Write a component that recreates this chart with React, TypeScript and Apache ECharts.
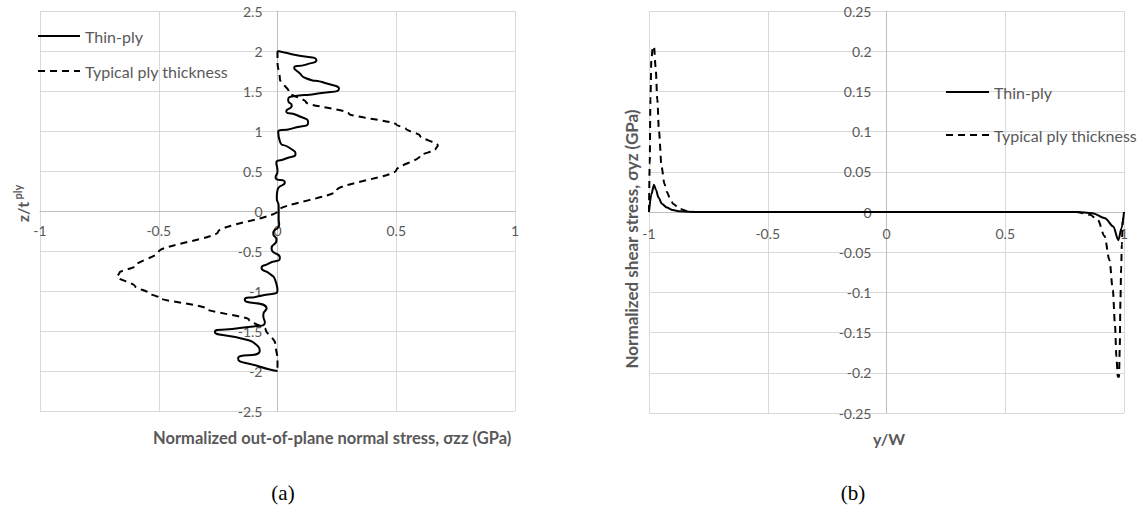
import React, { useEffect, useRef } from "react";
import * as echarts from "echarts";

// (a) normalized out-of-plane normal stress (x) vs z/t_ply (y)
const thinPlyNormal: [number, number][] = [
  [0, 2.0], [0.06, 1.96], [0.164, 1.88], [0.12, 1.83], [0.07, 1.79], [0.09, 1.73],
  [0.12, 1.66], [0.2, 1.6], [0.259, 1.53], [0.17, 1.47], [0.059, 1.43], [0.045, 1.38],
  [0.06, 1.32], [0.037, 1.25], [0.08, 1.2], [0.129, 1.11], [0.06, 1.03], [0.003, 0.99],
  [0.01, 0.87], [0.05, 0.79], [0.076, 0.72], [0.03, 0.65], [-0.005, 0.6], [0.0, 0.5],
  [-0.008, 0.42], [0.031, 0.36], [0.0, 0.26], [-0.003, 0.16], [0.005, 0.06], [0.005, 0],
  [0.005, -0.1], [0.007, -0.17], [-0.018, -0.28], [-0.004, -0.36], [-0.025, -0.47],
  [0.01, -0.58], [-0.04, -0.66], [-0.067, -0.71], [-0.03, -0.79], [-0.01, -0.86],
  [0, -0.99], [-0.07, -1.06], [-0.138, -1.11], [-0.046, -1.22], [-0.06, -1.3],
  [-0.053, -1.39], [-0.15, -1.46], [-0.264, -1.51], [-0.13, -1.61], [-0.09, -1.67],
  [-0.075, -1.75], [-0.166, -1.84], [-0.08, -1.94], [0, -2.0],
];

const typicalNormal: [number, number][] = [
  [0, 2.0], [0, 1.85], [0.01, 1.65], [0.05, 1.48], [0.12, 1.36], [0.3, 1.22], [0.5, 1.08],
  [0.54, 1.03], [0.6, 0.94], [0.675, 0.82], [0.665, 0.77], [0.6, 0.69], [0.5, 0.51],
  [0.25, 0.26], [0, 0], [-0.25, -0.26], [-0.5, -0.51], [-0.6, -0.69], [-0.665, -0.77],
  [-0.675, -0.82], [-0.6, -0.94], [-0.54, -1.03], [-0.5, -1.08], [-0.3, -1.22],
  [-0.12, -1.36], [-0.05, -1.48], [-0.01, -1.65], [0, -1.85], [0, -2.0],
];

// (b) y/W (x) vs normalized shear stress (y)
const thinPlyShear: [number, number][] = [
  [-1, 0], [-0.99, 0.022], [-0.979, 0.034], [-0.97, 0.027], [-0.96, 0.018], [-0.945, 0.01],
  [-0.925, 0.0055], [-0.9, 0.0025], [-0.87, 0.0008], [-0.8, 0], [0, 0], [0.8, 0],
  [0.867, -0.0015], [0.92, -0.0078], [0.955, -0.018], [0.976, -0.035], [0.99, -0.02],
  [1, 0],
];

const typicalShear: [number, number][] = [
  [-1, 0], [-0.997, 0.06], [-0.994, 0.14], [-0.99, 0.19], [-0.984, 0.205], [-0.979, 0.206],
  [-0.972, 0.18], [-0.965, 0.14], [-0.958, 0.1], [-0.947, 0.056], [-0.935, 0.035],
  [-0.925, 0.025], [-0.91, 0.016], [-0.898, 0.01], [-0.87, 0.004], [-0.84, 0.001],
  [-0.8, 0], [0, 0], [0.8, 0], [0.857, -0.0035], [0.89, -0.01], [0.918, -0.03],
  [0.939, -0.06], [0.953, -0.097], [0.962, -0.14], [0.968, -0.18], [0.974, -0.205],
  [0.979, -0.205], [0.982, -0.17], [0.985, -0.11], [0.988, -0.07], [0.991, -0.04],
  [0.995, -0.01], [1, 0],
];

const seriesNames = ["Thin-ply", "Typical ply thickness"];

const GREY = "#595959";
const GRID = "#d9d9d9";
const AXIS = "#bfbfbf";
const FONT = "Lato, 'Open Sans', sans-serif";
const DASH = [7, 5];

function buildOption(): any {
  const xAxisBase = (gridIndex: number, margin: number, offset: number) => ({
    gridIndex,
    type: "value",
    position: "bottom",
    offset,
    min: -1,
    max: 1,
    interval: 0.5,
    axisLine: { onZero: false, lineStyle: { color: AXIS, width: 1 } },
    axisTick: { show: false },
    axisLabel: { color: GREY, fontSize: 14, margin, fontFamily: FONT },
    splitLine: { show: true, lineStyle: { color: GRID, width: 1 } },
  });
  const yAxisBase = (gridIndex: number, min: number, max: number, interval: number) => ({
    gridIndex,
    type: "value",
    position: "left",
    offset: -237.5,
    min,
    max,
    interval,
    axisLine: { onZero: false, lineStyle: { color: AXIS, width: 1 } },
    axisTick: { show: false },
    axisLabel: { color: GREY, fontSize: 14, margin: 15, fontFamily: FONT },
    splitLine: { show: true, lineStyle: { color: GRID, width: 1 } },
  });
  const solid = { color: "#000", width: 2, type: "solid" };
  const dashed = { color: "#000", width: 2, type: DASH };

  const legendItems = (x1: number, x2: number, ys: number[]) =>
    seriesNames.flatMap((name, i) => [
      {
        type: "line", z: 100,
        shape: { x1, y1: ys[i], x2, y2: ys[i] },
        style: { stroke: "#000", lineWidth: 2, lineDash: i === 0 ? null : DASH },
      },
      {
        type: "text", z: 100, x: x2 + 5, y: ys[i],
        style: { text: name, fill: GREY, font: `16px ${FONT}`, verticalAlign: "middle" },
      },
    ]);

  return {
    animation: false,
    backgroundColor: "#fff",
    grid: [
      { left: 40, top: 11, width: 475, height: 400 },
      { left: 649, top: 11, width: 475, height: 402 },
    ],
    xAxis: [xAxisBase(0, 12, -200), xAxisBase(1, 14, -201)],
    yAxis: [yAxisBase(0, -2.5, 2.5, 0.5), yAxisBase(1, -0.25, 0.25, 0.05)],
    series: [
      {
        name: seriesNames[0], type: "line", xAxisIndex: 0, yAxisIndex: 0,
        data: thinPlyNormal, symbol: "none", showSymbol: false,
        smooth: 0.7, lineStyle: solid, z: 4,
      },
      {
        name: seriesNames[1], type: "line", xAxisIndex: 0, yAxisIndex: 0,
        data: typicalNormal, symbol: "none", showSymbol: false,
        smooth: 0.3, smoothMonotone: "y", lineStyle: dashed, z: 3,
      },
      {
        name: seriesNames[0], type: "line", xAxisIndex: 1, yAxisIndex: 1,
        data: thinPlyShear, symbol: "none", showSymbol: false,
        smooth: 0.3, smoothMonotone: "x", lineStyle: solid, z: 4,
      },
      {
        name: seriesNames[1], type: "line", xAxisIndex: 1, yAxisIndex: 1,
        data: typicalShear, symbol: "none", showSymbol: false,
        smooth: 0.3, smoothMonotone: "x", lineStyle: dashed, z: 3,
      },
    ],
    graphic: [
      ...legendItems(38, 80, [36, 71]),
      ...legendItems(946, 989, [92, 135]),
      {
        type: "text", x: 153, y: 438,
        style: {
          text: "Normalized out-of-plane normal stress, σzz (GPa)",
          fill: GREY, font: `bold 16.5px ${FONT}`, verticalAlign: "middle",
        },
      },
      {
        type: "text", x: 22, y: 212, rotation: Math.PI / 2,
        style: { text: "z/t", fill: GREY, font: `bold 16px ${FONT}`, align: "center", verticalAlign: "middle" },
      },
      {
        type: "text", x: 17, y: 192, rotation: Math.PI / 2,
        style: { text: "ply", fill: GREY, font: `bold 11px ${FONT}`, align: "center", verticalAlign: "middle" },
      },
      {
        type: "text", x: 889, y: 438,
        style: { text: "y/W", fill: GREY, font: `bold 16px ${FONT}`, align: "center", verticalAlign: "middle" },
      },
      {
        type: "text", x: 631, y: 239, rotation: Math.PI / 2,
        style: {
          text: "Normalized shear stress, σyz (GPa)",
          fill: GREY, font: `bold 17px ${FONT}`, align: "center", verticalAlign: "middle",
        },
      },
      {
        type: "text", x: 283, y: 493,
        style: { text: "(a)", fill: "#000", font: "21px 'Liberation Serif', 'DejaVu Serif', serif", align: "center", verticalAlign: "middle" },
      },
      {
        type: "text", x: 853, y: 493,
        style: { text: "(b)", fill: "#000", font: "21px 'Liberation Serif', 'DejaVu Serif', serif", align: "center", verticalAlign: "middle" },
      },
    ],
  };
}

export default function App() {
  const ref = useRef<HTMLDivElement>(null);
  useEffect(() => {
    document.body.style.margin = "0";
    if (!ref.current) return;
    const chart = echarts.init(ref.current, undefined, { renderer: "svg" });
    chart.setOption(buildOption());
    return () => chart.dispose();
  }, []);
  return <div ref={ref} style={{ width: 1145, height: 521, background: "#fff" }} />;
}
